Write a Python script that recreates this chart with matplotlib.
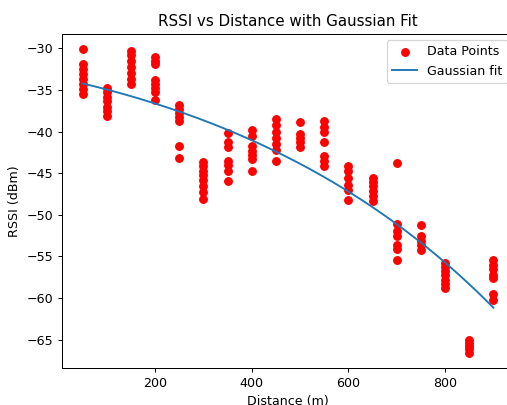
import numpy as np
import matplotlib
matplotlib.use('Agg')
from matplotlib import pyplot as plt

# RSSI readings (dBm) at each measured distance (m)
distances = [50, 100, 150, 200, 250, 300, 350, 400, 450,
             500, 550, 600, 650, 700, 750, 800, 850, 900]
rssi = [
    [-30.1, -31.9, -32.5, -33.1, -33.7, -34.3, -34.9, -35.5],
    [-34.8, -35.3, -35.8, -36.3, -37.0, -37.5, -38.1],
    [-30.3, -30.8, -31.5, -32.2, -33.0, -33.7, -34.3],
    [-31.0, -31.5, -31.9, -33.8, -34.3, -34.8, -35.3, -36.2],
    [-36.8, -37.3, -37.8, -38.3, -38.7, -41.7, -43.2],
    [-43.7, -44.2, -44.7, -45.2, -45.8, -46.5, -47.3, -48.1],
    [-40.2, -41.3, -41.8, -43.5, -44.0, -44.8, -46.0],
    [-39.8, -40.5, -41.7, -42.3, -42.8, -43.3, -44.7],
    [-38.5, -39.2, -40.0, -40.8, -41.5, -42.2, -43.6],
    [-38.9, -40.3, -40.8, -41.3, -41.8],
    [-38.7, -39.4, -40.0, -41.3, -42.9, -43.5, -44.1],
    [-44.2, -44.8, -45.6, -46.4, -47.0, -48.2],
    [-45.6, -46.1, -46.6, -47.2, -47.7, -48.3],
    [-43.8, -51.1, -51.9, -52.5, -53.6, -54.1, -55.4],
    [-51.2, -52.5, -53.1, -53.6, -54.2],
    [-55.8, -56.3, -56.8, -57.3, -57.8, -58.3, -58.8],
    [-65.0, -65.4, -65.8, -66.2, -66.6],
    [-55.5, -56.0, -56.5, -57.2, -57.6, -59.5, -60.2],
]

x = np.concatenate([[d] * len(r) for d, r in zip(distances, rssi)]).astype(float)
y = np.concatenate(rssi)

# gaussian model y = -exp(p2*x^2 + p1*x + p0), start from the log fit
xs = x / 1000.0
p = np.polyfit(xs, np.log(-y), 2)[::-1]
for _ in range(50):
    A = np.vstack([xs ** 0, xs, xs ** 2]).T
    model = -np.exp(A @ p)
    J = A * model[:, None]
    step, *_ = np.linalg.lstsq(J, y - model, rcond=None)
    p = p + step
    if np.max(np.abs(step)) < 1e-10:
        break

x_fit = np.linspace(min(distances), max(distances), 200)
xf = x_fit / 1000.0
y_fit = -np.exp(p[0] + p[1] * xf + p[2] * xf ** 2)

dpi = 91
fig = plt.figure(figsize=(507 / dpi, 405 / dpi), dpi=dpi)
ax = fig.add_axes([62 / 507, 37 / 405, 452 / 507, 334 / 405])
ax.scatter(x, y, c='red', label='Data Points')
ax.plot(x_fit, y_fit, label='Gaussian fit')
ax.set_title('RSSI vs Distance with Gaussian Fit')
ax.set_xlabel('Distance (m)')
ax.set_ylabel('RSSI (dBm)')
ax.legend(loc='upper right')

fig.savefig('out.png', dpi=dpi)
